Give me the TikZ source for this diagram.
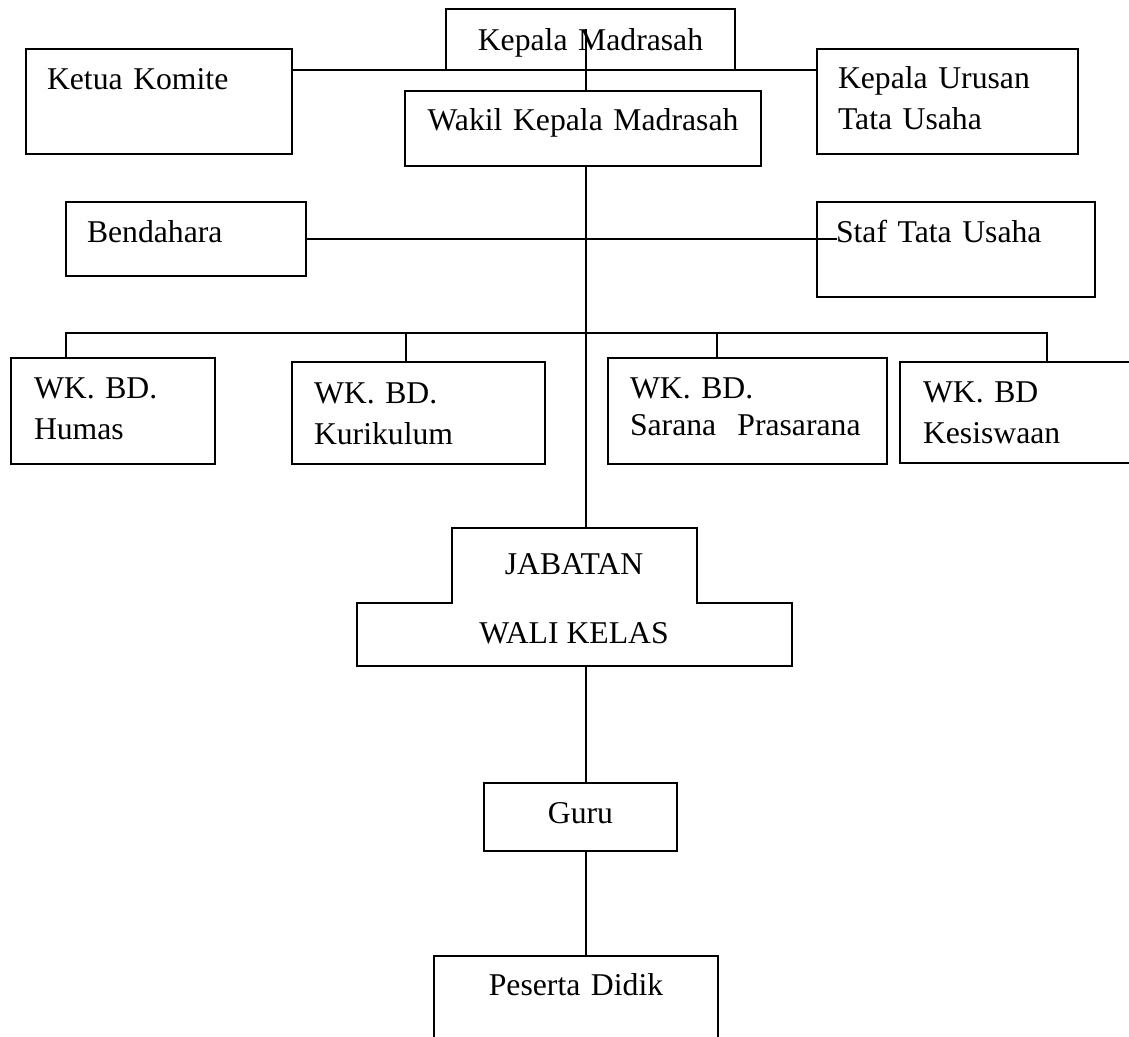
\documentclass[tikz,border=0pt]{standalone}
\usepackage{fontspec}
\setmainfont{Liberation Serif}
\usetikzlibrary{calc}
\tikzset{
  unit/.style={draw, line width=2.2pt, rectangle, outer sep=0pt, inner ysep=0pt,
    anchor=north west, align=left, font=\fontsize{31.7}{41}\selectfont},
  link/.style={draw, line width=2.2pt, line cap=rect},
  jablbl/.style={inner sep=0pt, align=center, font=\fontsize{31.7}{41}\selectfont},
}

\begin{document}
\begin{tikzpicture}[x=1pt, y=-1pt]
  \useasboundingbox[fill=white] (0,0) rectangle (1129,1036);
  \clip (0,0) rectangle (1129,1036);

  \node[unit, align=center, inner xsep=10pt, text width=269pt, text height=41pt, text depth=20pt] (kepala) at (446,9) {Kepala Madrasah};
  \node[unit, inner xsep=21pt, text width=224pt, text height=40pt, text depth=65pt] (ketua) at (26,49) {Ketua Komite};
  \node[unit, inner xsep=21pt, text width=219pt, text height=39pt, text depth=66pt] (urusan) at (817,49) {Kepala Urusan\\Tata Usaha};
  \node[unit, align=center, inner xsep=10pt, text width=336pt, text height=39pt, text depth=36pt] (wakil) at (405,91) {Wakil Kepala Madrasah};
  \node[unit, inner xsep=21pt, text width=198pt, text height=40pt, text depth=34pt] (bendahara) at (66,202) {Bendahara};
  \node[unit, inner xsep=19pt, text width=240pt, text height=40pt, text depth=55pt] (staf) at (817,202) {Staf Tata Usaha};

  \node[unit, inner xsep=23pt, text width=158pt, text height=40pt, text depth=66pt] (humas) at (11,358) {WK. BD.\\Humas};
  \node[unit, inner xsep=22pt, text width=209pt, text height=41pt, text depth=61pt] (kurikulum) at (292,362) {WK. BD.\\Kurikulum};
  \node[unit, font=\fontsize{31.7}{37}\selectfont, inner xsep=22pt, text width=235pt, text height=40pt, text depth=66pt] (sarana) at (608,358) {WK. BD.\\Sarana~~Prasarana};
  \node[unit, inner xsep=23pt, text width=214pt, text height=40pt, text depth=61pt] (kesiswaan) at (900,362) {WK. BD\\Kesiswaan};

  \node[unit, align=center, inner xsep=10pt, text width=173pt, text height=40pt, text depth=28pt] (guru) at (484,783) {Guru};
  \node[unit, align=center, inner xsep=10pt, text width=264pt, text height=39pt, text depth=90pt] (peserta) at (434,956) {Peserta Didik};

  % stepped box
  \draw[line width=2.2pt, line join=miter] (452,528) -- (697,528) -- (697,603) -- (792,603)
    -- (792,666) -- (357,666) -- (357,603) -- (452,603) -- cycle;
  \node[jablbl, anchor=south, text depth=0pt] (jabatan) at (574,644) {JABATAN\\[28pt]WALI KELAS};

  \coordinate (spine) at (586,30);
  \coordinate (jab-top) at (586,528);
  \coordinate (jab-bot) at (586,666);
  \coordinate (bus-l) at (66,333);
  \coordinate (bus-r) at (1047,333);

  \draw[link] (spine) -- (spine |- wakil.north);
  \draw[link] (ketua.east |- kepala.south) -- (urusan.west |- kepala.south);
  \draw[link] (spine |- wakil.south) -- (jab-top);
  \draw[link] (bendahara.east) -- (bendahara.east -| staf.text);
  \draw[link] (bus-l) -- (bus-r);
  \foreach \n/\x in {humas/66, kurikulum/406, sarana/717, kesiswaan/1047}
    \draw[link] (\x,333) -- (\n.north -| \x,0);
  \draw[link] (jab-bot) -- (spine |- guru.north);
  \draw[link] (spine |- guru.south) -- (spine |- peserta.north);
\end{tikzpicture}
\end{document}
